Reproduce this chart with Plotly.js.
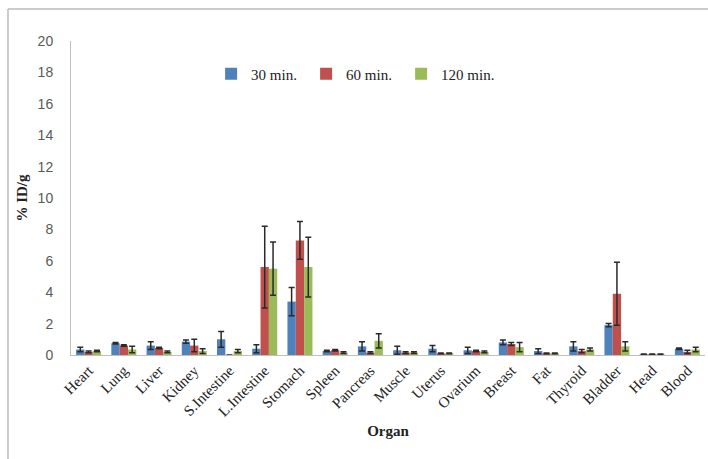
<!DOCTYPE html>
<html><head><meta charset="utf-8">
<script src="https://cdn.plot.ly/plotly-3.0.1.min.js"></script>
<style>body{margin:0;padding:0;background:#fff}#c{width:708px;height:459px}</style>
</head><body><div id="c"></div>
<script>
const organs = ["Heart","Lung","Liver","Kidney","S.Intestine","L.Intestine","Stomach","Spleen","Pancreas","Muscle","Uterus","Ovarium","Breast","Fat","Thyroid","Bladder","Head","Blood"];
const v30  = [0.35,0.75,0.6,0.85,1.0,0.4,3.4,0.25,0.55,0.3,0.4,0.3,0.8,0.25,0.55,1.9,0.05,0.4];
const e30  = [0.15,0.05,0.25,0.1,0.5,0.25,0.9,0.05,0.3,0.25,0.2,0.2,0.15,0.15,0.3,0.1,0.02,0.05];
const v60  = [0.2,0.6,0.45,0.6,0.0,5.6,7.3,0.3,0.15,0.15,0.1,0.25,0.7,0.1,0.25,3.9,0.05,0.2];
const e60  = [0.05,0.05,0.05,0.4,0.0,2.6,1.2,0.05,0.05,0.05,0.02,0.05,0.1,0.02,0.1,2.0,0.02,0.1];
const v120 = [0.25,0.35,0.2,0.25,0.25,5.5,5.6,0.15,0.9,0.15,0.1,0.2,0.5,0.1,0.35,0.55,0.05,0.35];
const e120 = [0.05,0.2,0.05,0.15,0.1,1.7,1.9,0.05,0.45,0.05,0.02,0.05,0.3,0.02,0.1,0.3,0.02,0.15];
const names = ["30 min.","60 min.","120 min."];
const colors = ["#4F81BD","#C0504D","#9BBB59"];
const vals = [v30,v60,v120], errs=[e30,e60,e120];
const traces = vals.map((v,i)=>({
  type:"bar", x:organs, y:v, name:names[i],
  marker:{color:colors[i]},
  error_y:{type:"data", array:errs[i], visible:true, color:"#2a2a2a", thickness:1.5, width:3}
}));
const layout = {
  width:708, height:459,
  margin:{l:71,r:3,t:41,b:104},
  paper_bgcolor:"#fff", plot_bgcolor:"#fff",
  barmode:"group", bargap:0.29, bargroupgap:0,
  showlegend:true,
  legend:{orientation:"h", x:0.221, y:0.895, xanchor:"left", yanchor:"middle",
    font:{family:"Liberation Serif", size:15, color:"#222"}, itemwidth:30, traceorder:"normal",
    entrywidth:50, entrywidthmode:"pixels"},
  xaxis:{showline:true, linecolor:"#bfbfbf", linewidth:1, ticks:"", tickangle:-45,
    tickfont:{family:"Liberation Serif", size:15, color:"#222"},
    title:{text:"<b>Organ</b>", font:{family:"Liberation Serif", size:15, color:"#222"}, standoff:6}},
  yaxis:{range:[0,20], dtick:2, showgrid:false, zeroline:false, showline:true, linecolor:"#bfbfbf", linewidth:1,
    ticks:"", ticklabelstandoff:14, tickfont:{family:"Liberation Sans", size:14, color:"#595959"},
    title:{text:"<b>% ID/g</b>", font:{family:"Liberation Serif", size:15, color:"#222"}, standoff:6}},
  shapes:[
    {type:"line", xref:"paper", yref:"paper", x0:-0.0994, x1:-0.0994, y0:1.102, y1:-0.34, line:{color:"#bbb", width:1.5}},
    {type:"line", xref:"paper", yref:"paper", x0:-0.0994, x1:1.01, y0:1.102, y1:1.102, line:{color:"#bbb", width:1.5}}
  ]
};
Plotly.newPlot("c", traces, layout, {displayModeBar:false, staticPlot:true});
</script></body></html>
